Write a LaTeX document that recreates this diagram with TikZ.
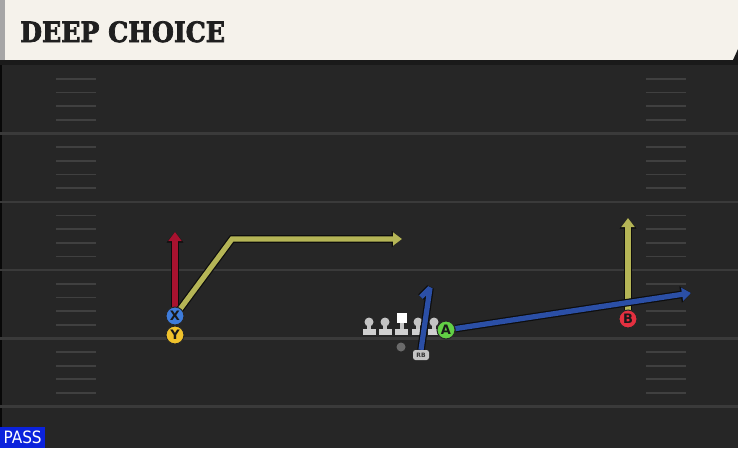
\documentclass[tikz,border=0pt]{standalone}
\usepackage{fontspec}
\usetikzlibrary{arrows.meta}
\newfontfamily\titlefont{DejaVu Serif Condensed Bold}[FakeBold=2.5]
\newfontfamily\markfont{DejaVu Sans}
\newfontfamily\passfont{DejaVu Sans Condensed}

\definecolor{cream}{HTML}{F5F2EB}
\definecolor{fieldbg}{HTML}{262626}
\definecolor{darkband}{HTML}{1A1A1A}
\definecolor{yardline}{HTML}{3A3A3A}
\definecolor{hashline}{HTML}{404040}
\definecolor{redroute}{HTML}{A8122F}
\definecolor{yellowroute}{HTML}{B5B556}
\definecolor{blueroute}{HTML}{2B4FA6}
\definecolor{xblue}{HTML}{3E7CDB}
\definecolor{yyellow}{HTML}{F0C22C}
\definecolor{agreen}{HTML}{62CF45}
\definecolor{bred}{HTML}{E43040}
\definecolor{passblue}{HTML}{0B22DC}
\definecolor{linegrey}{HTML}{C4C4C4}
\definecolor{qbgrey}{HTML}{6A6A6A}

\pgfdeclarelayer{field}
\pgfdeclarelayer{routes}
\pgfsetlayers{field,routes,main}

\begin{document}
\begin{tikzpicture}[x=1pt, y=-1pt,
    player/.style={circle, draw=black!85, line width=1pt, minimum size=18pt, inner sep=0pt,
      font=\markfont\bfseries\fontsize{13}{13}\selectfont, text=black!90},
    route/.style={line width=5.2pt, draw=#1, -{Triangle[width=13pt,length=9pt]},
      preaction={draw=black!95, line width=7.6pt, -{Triangle[width=16pt,length=10.5pt]}}},
    route stop/.style={line width=5.2pt, draw=#1, line join=bevel,
      preaction={draw=black!95, line width=7.6pt, line join=bevel}},
    ]
  \useasboundingbox (0,0) rectangle (738,448);

  \begin{pgfonlayer}{field}
    \fill[fieldbg] (0,0) rectangle (738,448);
    \fill[black!80!fieldbg] (0,65) rectangle (2,448);
    \foreach \m in {1,...,5}
      \draw[yardline, line width=2.6pt] (0,{65.2+68.3*\m}) -- (738,{65.2+68.3*\m});
    \foreach \m in {0,...,4}
      \foreach \k in {1,...,4} {
        \draw[hashline, line width=1.8pt] (56,{65.2+68.3*\m+13.66*\k}) -- (96,{65.2+68.3*\m+13.66*\k});
        \draw[hashline, line width=1.8pt] (646,{65.2+68.3*\m+13.66*\k}) -- (686,{65.2+68.3*\m+13.66*\k});
      }
    % title band
    \fill[cream] (0,0) rectangle (738,60);
    \fill[black!35] (0,0) rectangle (5,60);
    \fill[darkband] (0,60) rectangle (738,65);
    \fill[darkband] (733,60) -- (738,49) -- (738,60) -- cycle;
  \end{pgfonlayer}

  \node[anchor=base west, inner sep=0pt, text=black!88,
    font=\titlefont\fontsize{28}{28}\selectfont] (title) at (20,42) {DEEP CHOICE};

  \node[player, fill=xblue] (X) at (175,316) {X};
  \node[player, fill=yyellow] (Y) at (175,335) {Y};
  \node[player, fill=agreen] (A) at (446,330) {A};
  \node[player, fill=bred] (B) at (628,319) {B};
  \node[circle, fill=qbgrey, minimum size=9pt, inner sep=0pt] (QB) at (401,347) {};
  \node[fill=linegrey, rounded corners=2.5pt, minimum width=16pt, minimum height=10pt, inner sep=0pt,
    font=\markfont\bfseries\fontsize{6}{6}\selectfont, text=black!80] (RB) at (421,355) {RB};

  \coordinate (xend) at (175,232);
  \coordinate (ycut) at (232,239);
  \coordinate (yend) at (402,239);
  \coordinate (aend) at (691,293);
  \coordinate (bend) at (628,218);
  \coordinate (rbtop) at (430,288);
  \coordinate (rbhook) at (421,297);

  \begin{pgfonlayer}{routes}
    % line
    \foreach \lx in {369,385,418,434} {
      \fill[linegrey] (\lx,322) circle (4.5);
      \fill[linegrey] (\lx-2,322) rectangle (\lx+2,330);
      \fill[linegrey!80!white] (\lx-6.5,329) rectangle (\lx+6.5,335);
    }
    \fill[white] (396.5,313) rectangle (406.5,323);
    \fill[linegrey] (399.5,323) rectangle (403.5,330);
    \fill[linegrey!80!white] (395,329) rectangle (408,335);

    \draw[route=redroute] (X) -- (xend);
    \draw[route=yellowroute] (X.center) -- (ycut) -- (yend);
    \draw[route=yellowroute] (B) -- (bend);
    \draw[route=blueroute] (A) -- (aend);
    \draw[route stop=blueroute] (RB.north) -- (rbtop) -- (rbhook);
  \end{pgfonlayer}

  \node[anchor=south west, fill=passblue, text=white, minimum width=45pt, minimum height=21pt,
    inner sep=0pt, font=\passfont\fontsize{17}{17}\selectfont] (pass) at (0,448) {PASS};
\end{tikzpicture}
\end{document}
